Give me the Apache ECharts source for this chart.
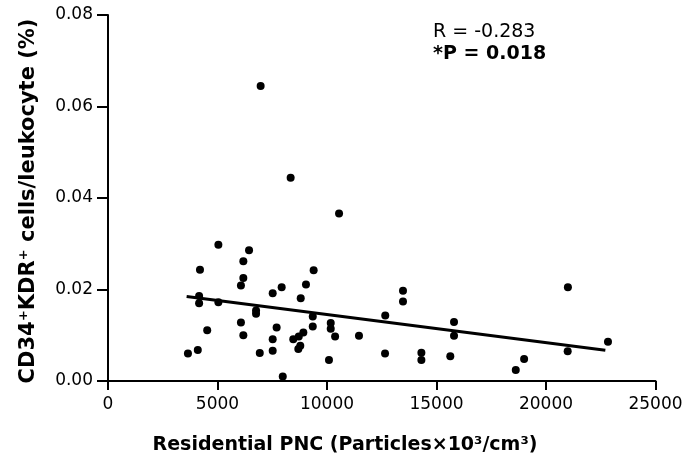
<!DOCTYPE html>
<html>
<head>
<meta charset="utf-8">
<script src="https://cdn.jsdelivr.net/npm/echarts@6/dist/echarts.min.js"></script>
<style>
html,body{margin:0;padding:0;background:#fff;}
#chart{width:697px;height:460px;}
</style>
</head>
<body>
<div id="chart"></div>
<script>
// Residential PNC (x) values
var xValues = [8340, 10550, 5040, 6440, 6180, 4200, 9390, 6180, 6070, 9040, 7930, 7520, 4160, 8800, 4160, 5040, 6760, 6760, 9350, 10170, 6070, 9350, 7700, 10170, 4530, 6180, 8920, 8710, 8460, 10370, 7520, 8780, 8690, 7520, 4100, 3650, 6930, 10090, 7980, 13470, 21000, 13470, 12660, 15800, 11460, 15800, 22830, 20990, 12650, 14310, 14310, 15630, 19000, 18620, 6970];
// CD34+KDR+ cells/leukocyte (%) values
var yValues = [0.0444, 0.0366, 0.0298, 0.0286, 0.0262, 0.0243, 0.0242, 0.0225, 0.0209, 0.0211, 0.0205, 0.0192, 0.0186, 0.0181, 0.0170, 0.0172, 0.0154, 0.0147, 0.0141, 0.0127, 0.0128, 0.0119, 0.0117, 0.0114, 0.0111, 0.0100, 0.0106, 0.0097, 0.0091, 0.0097, 0.0091, 0.0077, 0.0070, 0.0066, 0.0068, 0.0060, 0.0061, 0.0046, 0.0010, 0.0197, 0.0205, 0.0174, 0.0143, 0.0129, 0.0099, 0.0099, 0.0086, 0.0065, 0.0060, 0.0062, 0.0046, 0.0054, 0.0048, 0.0024, 0.0645];
// Regression line end points
var fitX = [3590, 22710];
var fitY = [0.01849, 0.00673];
// Axis ticks
var xTicks = [0, 5000, 10000, 15000, 20000, 25000];
var yTicks = [0.00, 0.02, 0.04, 0.06, 0.08];
var statR = 'R = -0.283';
var statP = '*P = 0.018';
var xTitle = 'Residential PNC (Particles\u00d710\u00b3/cm\u00b3)';
var yTitle = 'CD34\u207aKDR\u207a cells/leukocyte (%)';

var points = xValues.map(function (x, i) { return [x, yValues[i]]; });
var fitLine = fitX.map(function (x, i) { return [x, fitY[i]]; });

var chart = echarts.init(document.getElementById('chart'), null, {renderer: 'canvas'});
var font = 'DejaVu Sans';
chart.setOption({
  animation: false,
  backgroundColor: '#ffffff',
  grid: {left: 108, right: 41.5, top: 15, bottom: 79, containLabel: false},
  xAxis: {
    type: 'value',
    min: xTicks[0], max: xTicks[xTicks.length - 1], interval: xTicks[1] - xTicks[0],
    axisLine: {show: true, lineStyle: {color: '#000', width: 2}},
    axisTick: {show: true, inside: false, length: 9, lineStyle: {color: '#000', width: 2}},
    axisLabel: {color: '#000', fontFamily: font, fontSize: 17, margin: 15,
      formatter: function (v) { return String(v); }},
    splitLine: {show: false}
  },
  yAxis: {
    type: 'value',
    min: yTicks[0], max: yTicks[yTicks.length - 1], interval: yTicks[1] - yTicks[0],
    axisLine: {show: true, lineStyle: {color: '#000', width: 2}},
    axisTick: {show: true, inside: false, length: 11, lineStyle: {color: '#000', width: 2}},
    axisLabel: {color: '#000', fontFamily: font, fontSize: 17, margin: 15,
      formatter: function (v) { return v.toFixed(2); }},
    splitLine: {show: false}
  },
  series: [
    {
      type: 'scatter',
      data: points,
      symbol: 'circle',
      symbolSize: 8,
      itemStyle: {color: '#000', opacity: 1},
      z: 3
    },
    {
      type: 'line',
      data: fitLine,
      showSymbol: false,
      symbol: 'none',
      lineStyle: {color: '#000', width: 3},
      z: 4
    }
  ],
  graphic: [
    {type: 'text', x: 433, y: 32, style: {text: statR, fontFamily: font, fontSize: 19, fill: '#000', align: 'left', verticalAlign: 'middle'}},
    {type: 'text', x: 433, y: 54, style: {text: statP, fontFamily: font, fontSize: 19, fontWeight: 'bold', fill: '#000', align: 'left', verticalAlign: 'middle'}},
    {type: 'text', x: 345, y: 445, style: {text: xTitle, fontFamily: font, fontSize: 19, fontWeight: 'bold', fill: '#000', align: 'center', verticalAlign: 'middle'}},
    {type: 'text', x: 28.5, y: 201, rotation: Math.PI / 2, style: {text: yTitle, fontFamily: font, fontSize: 21, fontWeight: 'bold', fill: '#000', align: 'center', verticalAlign: 'middle'}}
  ]
});
</script>
</body>
</html>
